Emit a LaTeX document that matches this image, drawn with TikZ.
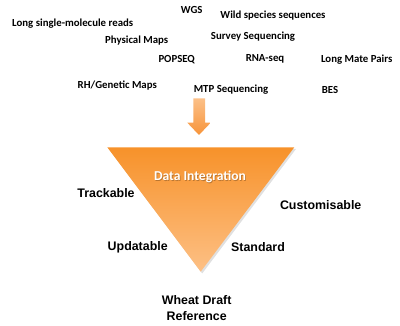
\documentclass[tikz,border=0pt]{standalone}
\usepackage{fontspec}
\setmainfont{Liberation Sans}
\newfontfamily\calib{Carlito}
\usetikzlibrary{shadows}
\definecolor{otop}{HTML}{F7922A}
\definecolor{obot}{HTML}{FDC085}
\definecolor{alight}{HTML}{FCC088}
\definecolor{adark}{HTML}{F7943A}
\tikzset{
  srclbl/.style={font=\calib\bfseries\fontsize{10.8}{12}\selectfont, inner sep=0pt, text=black},
  proplbl/.style={font=\bfseries\fontsize{12.4}{14}\selectfont, inner sep=0pt, text=black, align=center},
}
\begin{document}
\begin{tikzpicture}[x=1pt,y=-1pt]
\useasboundingbox (0,0) rectangle (400,326);
% source labels
\node[srclbl] (wgs) at (191.7,10) {WGS};
\node[srclbl] (wild) at (273,15.7) {Wild species sequences};
\node[srclbl] (long) at (72.7,24) {Long single-molecule reads};
\node[srclbl] (phys) at (136.7,41) {Physical Maps};
\node[srclbl] (survey) at (253,37) {Survey Sequencing};
\node[srclbl] (pop) at (176.7,59.3) {POPSEQ};
\node[srclbl] (rna) at (265,59.3) {RNA-seq};
\node[srclbl] (lmp) at (356.7,59.3) {Long Mate Pairs};
\node[srclbl] (rh) at (117.3,86) {RH/Genetic Maps};
\node[srclbl] (mtp) at (231,90) {MTP Sequencing};
\node[srclbl] (bes) at (330,90) {BES};
% arrow
\path[top color=alight, bottom color=adark, draw=none]
  (193.3,98.3) -- (205,98.3) -- (205,122.7) -- (210.7,122.7) -- (199,135)
  -- (187.3,122.7) -- (193.3,122.7) -- cycle;
% triangle shadow
\fill[black, opacity=0.12] (108.8,149) -- (296,149) -- (202.2,273.5) -- cycle;
% triangle
\path[top color=otop, bottom color=obot, draw=none]
  (107.3,147.3) -- (294.3,147.3) -- (200.7,271.7) -- cycle;
% title inside triangle, with a faint shadow
\node[font=\calib\bfseries\fontsize{13.6}{15}\selectfont, text=black, opacity=0.25, inner sep=0pt] (dish) at (200.8,177.8) {Data Integration};
\node[font=\calib\bfseries\fontsize{13.6}{15}\selectfont, text=white, inner sep=0pt] (di) at (200,177) {Data Integration};
% property labels
\node[proplbl] (track) at (106,193) {Trackable};
\node[proplbl] (cust) at (320.7,205) {Customisable};
\node[proplbl] (upd) at (137.7,247) {Updatable};
\node[proplbl] (std) at (258,246.7) {Standard};
\node[proplbl] (wheat) at (196.7,308.3) {Wheat Draft\\[2.5pt]Reference};
\end{tikzpicture}
\end{document}
